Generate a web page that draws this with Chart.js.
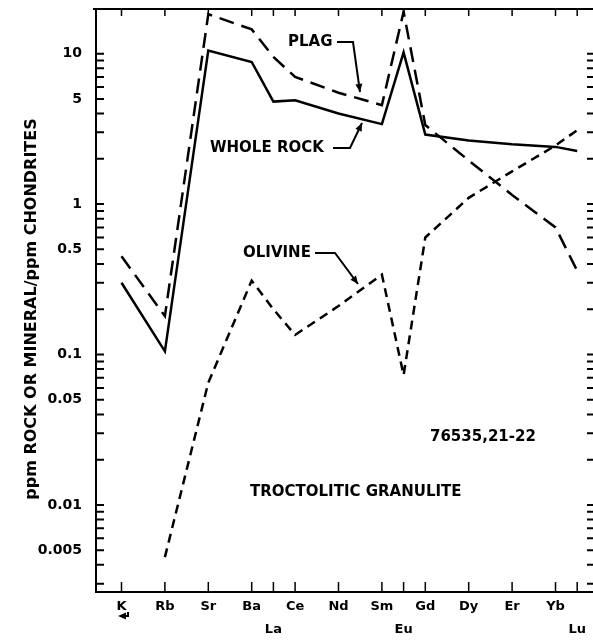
<!DOCTYPE html>
<html>
<head>
<meta charset="utf-8">
<script src="https://cdn.jsdelivr.net/npm/chart.js@4/dist/chart.umd.min.js"></script>
<style>
body { margin: 0; background: #fff; }
canvas { display: block; }
</style>
</head>
<body>
<canvas id="ree" width="593" height="642"></canvas>
<script>
// elements along the x axis and where they sit on it
var elements = ['K', 'Rb', 'Sr', 'Ba', 'La', 'Ce', 'Nd', 'Sm', 'Eu', 'Gd', 'Dy', 'Er', 'Yb', 'Lu'];
var elementPos = [50, 52, 54, 56, 57, 58, 60, 62, 63, 64, 66, 68, 70, 71];
var lowerRow = ['La', 'Eu', 'Lu']; // these labels go on the second line

// ppm rock or mineral / ppm chondrites
var wholeRock = [0.30, 0.105, 10.5, 8.8, 4.8, 4.9, 4.0, 3.4, 10.2, 2.9, 2.65, 2.5, 2.4, 2.25];
var plag = [0.45, 0.18, 18.3, 14.5, 9.5, 7.0, 5.5, 4.55, 19.0, 3.35, 1.95, 1.15, 0.70, 0.36];
var olivine = [null, 0.0045, 0.065, 0.31, 0.2, 0.135, 0.21, 0.34, 0.073, 0.60, 1.1, 1.65, 2.45, 3.1];

var yTicks = [10, 5, 1, 0.5, 0.1, 0.05, 0.01, 0.005];
var yMin = 0.00264, yMax = 19.8;

var FONT = '"DejaVu Sans", sans-serif';

// log minor ticks 1..9 x 10^n inside the range
var minorTicks = [];
for (var d = -3; d <= 1; d++) {
    for (var k = 1; k <= 9; k++) {
        var v = k * Math.pow(10, d);
        if (v > yMin && v < yMax) minorTicks.push(v);
    }
}

function pts(arr) {
    return arr.map(function(v, i) { return {x: elementPos[i], y: v}; });
}

function arrow(ctx, x0, y0, x1, y1) {
    var ang = Math.atan2(y1 - y0, x1 - x0), len = 8, w = 3.5;
    ctx.beginPath();
    ctx.moveTo(x1, y1);
    ctx.lineTo(x1 - len * Math.cos(ang) + w * Math.sin(ang), y1 - len * Math.sin(ang) - w * Math.cos(ang));
    ctx.lineTo(x1 - len * Math.cos(ang) - w * Math.sin(ang), y1 - len * Math.sin(ang) + w * Math.cos(ang));
    ctx.closePath();
    ctx.fill();
}

function leader(ctx, p) {
    ctx.beginPath();
    ctx.moveTo(p[0][0], p[0][1]);
    for (var i = 1; i < p.length; i++) ctx.lineTo(p[i][0], p[i][1]);
    ctx.stroke();
    var a = p[p.length - 2], b = p[p.length - 1];
    arrow(ctx, a[0], a[1], b[0], b[1]);
}

var frame = {
    id: 'frame',
    afterDatasetsDraw: function(chart) {
        var ctx = chart.ctx, a = chart.chartArea;
        var xs = chart.scales.x, ys = chart.scales.y;
        ctx.save();
        ctx.strokeStyle = '#000';
        ctx.fillStyle = '#000';

        // top edge of the frame
        ctx.lineWidth = 2;
        ctx.beginPath();
        ctx.moveTo(a.left - 3, a.top);
        ctx.lineTo(a.right + 1, a.top);
        ctx.stroke();

        // element ticks, top and bottom, pointing in
        ctx.lineWidth = 1.5;
        elementPos.forEach(function(p) {
            var px = xs.getPixelForValue(p);
            ctx.beginPath();
            ctx.moveTo(px, a.top);
            ctx.lineTo(px, a.top + 7);
            ctx.moveTo(px, a.bottom);
            ctx.lineTo(px, a.bottom - 10);
            ctx.stroke();
        });

        // log ticks on both sides
        ctx.lineWidth = 2;
        minorTicks.forEach(function(v) {
            var py = ys.getPixelForValue(v);
            ctx.beginPath();
            ctx.moveTo(a.left, py);
            ctx.lineTo(a.left + 8, py);
            ctx.moveTo(a.right + 1, py);
            ctx.lineTo(a.right - 5, py);
            ctx.stroke();
        });

        // labels on the curves
        ctx.font = 'bold 15px ' + FONT;
        ctx.textBaseline = 'middle';
        ctx.textAlign = 'left';
        ctx.fillText('PLAG', 288, 42);
        ctx.fillText('WHOLE ROCK', 210, 148);
        ctx.fillText('OLIVINE', 243, 253);
        ctx.fillText('76535,21-22', 430, 437);
        ctx.fillText('TROCTOLITIC GRANULITE', 250, 492);

        ctx.lineWidth = 2;
        leader(ctx, [[337, 42], [353, 42], [360, 92]]);
        leader(ctx, [[333, 148], [350, 148], [362, 123]]);
        leader(ctx, [[315, 253], [335, 253], [358, 284]]);

        // little arrow under K
        ctx.lineWidth = 2;
        ctx.beginPath();
        ctx.moveTo(128, 612);
        ctx.lineTo(128, 616);
        ctx.lineTo(122, 616);
        ctx.stroke();
        arrow(ctx, 126, 616, 118, 616);

        // y axis title
        ctx.translate(32, 309);
        ctx.rotate(-Math.PI / 2);
        ctx.textAlign = 'center';
        ctx.font = 'bold 16px ' + FONT;
        ctx.fillText('ppm ROCK OR MINERAL/ppm CHONDRITES', 0, 0);
        ctx.restore();
    }
};

var lineStyle = {borderColor: '#000', borderWidth: 2.5, pointRadius: 0, tension: 0, fill: false};

new Chart(document.getElementById('ree'), {
    type: 'line',
    data: {
        datasets: [
            Object.assign({label: 'WHOLE ROCK', data: pts(wholeRock)}, lineStyle),
            Object.assign({label: 'PLAG', data: pts(plag), borderDash: [15, 8]}, lineStyle),
            Object.assign({label: 'OLIVINE', data: pts(olivine), borderDash: [9, 6]}, lineStyle)
        ]
    },
    options: {
        responsive: false,
        animation: false,
        devicePixelRatio: 1,
        layout: {padding: {top: 9, right: 1, left: 0, bottom: 0}},
        plugins: {legend: {display: false}, tooltip: {enabled: false}},
        scales: {
            x: {
                type: 'linear',
                min: 48.825,
                max: 71.682,
                afterBuildTicks: function(s) { s.ticks = elementPos.map(function(v) { return {value: v}; }); },
                afterFit: function(s) { s.height = 50; s.paddingLeft = 0; s.paddingRight = 0; },
                grid: {display: false, drawTicks: false},
                border: {display: true, color: '#000', width: 2},
                ticks: {
                    autoSkip: false, maxRotation: 0, padding: 3, color: '#000',
                    font: {family: FONT, weight: 'bold', size: 13, lineHeight: 1.8},
                    callback: function(v) {
                        var n = elements[elementPos.indexOf(v)];
                        return lowerRow.indexOf(n) >= 0 ? ['', n] : n;
                    }
                }
            },
            y: {
                type: 'logarithmic',
                min: yMin,
                max: yMax,
                afterBuildTicks: function(s) { s.ticks = yTicks.map(function(v) { return {value: v}; }); },
                afterFit: function(s) { s.width = 96; s.paddingTop = 0; s.paddingBottom = 0; },
                grid: {display: false, drawTicks: false},
                border: {display: true, color: '#000', width: 2},
                ticks: {
                    padding: 14, color: '#000',
                    font: {family: FONT, weight: 'bold', size: 14},
                    callback: function(v) { return String(v); }
                }
            }
        }
    },
    plugins: [frame]
});
</script>
</body>
</html>
